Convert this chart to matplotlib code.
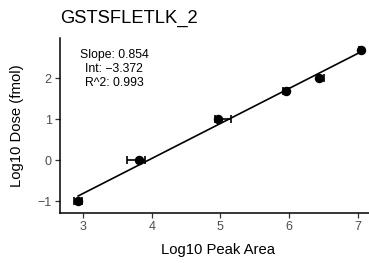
import matplotlib
matplotlib.use("Agg")
import matplotlib.pyplot as plt
import numpy as np

title = "GSTSFLETLK_2"
log_area = [2.93, 3.82, 4.97, 5.955, 6.44, 7.04]
log_dose = [-1.0, 0.0, 1.0, 1.699, 2.0, 2.699]
xerr_low = [0.055, 0.175, 0.05, 0.05, 0.02, 0.02]
xerr_high = [0.055, 0.08, 0.19, 0.05, 0.075, 0.02]
slope = 0.854
intercept = -3.372
r2 = 0.993
xticks = [3, 4, 5, 6, 7]
yticks = [-1, 0, 1, 2]

plt.rcParams['font.family'] = ['Liberation Sans', 'DejaVu Sans']
W, H = 369, 263
fig = plt.figure(figsize=(W/100, H/100), dpi=100)
L, R, T, B = 60, 369, 38, 213
ax = fig.add_axes([L/W, 1-B/H, (R-L)/W, (B-T)/H])

xmin = 3 - (83-L)/68.7
xmax = 3 + (R-83)/68.7
ymin = -1 - (B-201.3)/41
ymax = 2 + (78.3-T)/41
ax.set_xlim(xmin, xmax)
ax.set_ylim(ymin, ymax)

xs = np.array([min(log_area), max(log_area)])
ax.plot(xs, slope*xs + intercept, color='black', lw=1.2, zorder=2)
ax.errorbar(log_area, log_dose, xerr=[xerr_low, xerr_high], fmt='o', color='black',
            ms=5.8, elinewidth=1.2, capsize=2.6, capthick=1.2, zorder=3)

ax.text(3.45, 2.56, f"Slope: {slope:.3f}", ha='center', va='center', fontsize=8.8)
ax.text(3.45, 2.22, f"Int: \u2212{abs(intercept):.3f}", ha='center', va='center', fontsize=8.8)
ax.text(3.45, 1.88, f"R^2: {r2:.3f}", ha='center', va='center', fontsize=8.8)

ax.set_xticks(xticks)
ax.set_yticks(yticks)
ax.set_yticklabels([f"\u2212{abs(v)}" if v < 0 else str(v) for v in yticks])
ax.tick_params(labelsize=9, labelcolor='#4D4D4D', color='#333333', length=3.5, width=0.9, pad=2.5)
for s in ['top', 'right']:
    ax.spines[s].set_visible(False)
for s in ['left', 'bottom']:
    ax.spines[s].set_linewidth(1.1)

fig.text(60/W, 1-18/H, title, fontsize=13.2, ha='left', va='center')
fig.text(218.5/W, 1-250/H, "Log10 Peak Area", fontsize=10.7, ha='center', va='center')
fig.text(17/W, 1-125.5/H, "Log10 Dose (fmol)", fontsize=10.7, ha='center', va='center', rotation=90)

fig.savefig("out.png", dpi=100)
